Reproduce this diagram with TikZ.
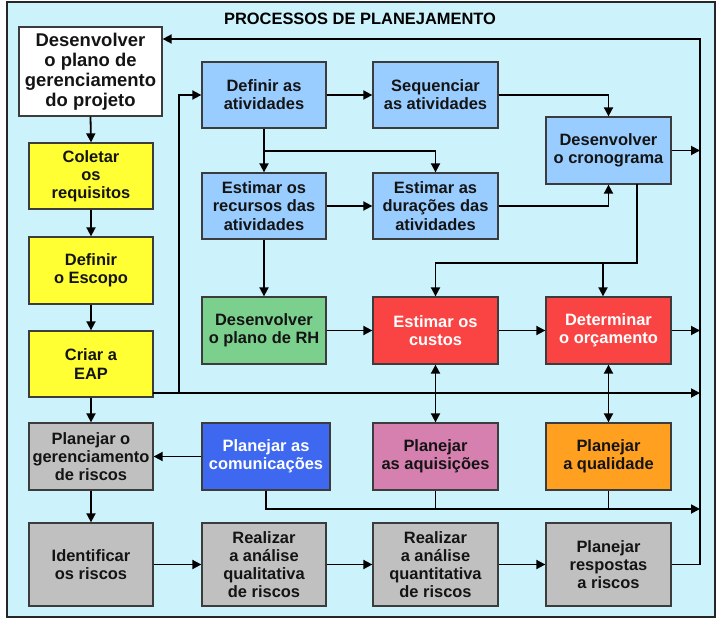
\documentclass[tikz,border=0pt]{standalone}
\usepackage{fontspec}
\setmainfont{Liberation Sans}
\usetikzlibrary{arrows.meta,calc}
\definecolor{bgc}{RGB}{204,242,252}
\definecolor{lblue}{RGB}{153,204,255}
\definecolor{yel}{RGB}{255,255,51}
\definecolor{grn}{RGB}{124,208,142}
\definecolor{rd}{RGB}{250,68,68}
\definecolor{blu}{RGB}{62,104,240}
\definecolor{pnk}{RGB}{214,128,176}
\definecolor{org}{RGB}{255,160,32}
\definecolor{gry}{RGB}{192,192,192}
\definecolor{edge}{RGB}{60,60,60}
\tikzset{
  pbox/.style={draw=edge, line width=1.3bp, align=center, inner sep=1bp,
    font=\fontsize{16.5}{18.3}\selectfont\bfseries, text=black!92},
  c2/.style={pbox, minimum width=124bp, minimum height=66bp},
  c3/.style={pbox, minimum width=125bp, minimum height=66bp},
  tall/.style={minimum height=83bp},
  conn/.style={line width=1.8bp, black},
  arr/.style={conn, -{Triangle[length=9bp,width=9bp]}},
  darr/.style={conn, {Triangle[length=9bp,width=9bp]}-{Triangle[length=9bp,width=9bp]}},
}
\begin{document}
\begin{tikzpicture}[x=1bp,y=-1bp]
\useasboundingbox (0,0) rectangle (720,620);
\draw[fill=bgc, draw=black!85, line width=2.6bp] (7,2) rectangle (715,617);
\node[font=\fontsize{16.5}{18}\selectfont\bfseries] (title) at (360,19) {PROCESSOS DE PLANEJAMENTO};

% column 1
\node[pbox, fill=white, minimum width=143bp, minimum height=89bp,
  font=\fontsize{18.5}{20}\selectfont\bfseries] (plano) at (90.5,71.5)
  {Desenvolver\\o plano de\\gerenciamento\\do projeto};
\node[c2, fill=yel] (coletar) at (91,176) {Coletar\\os\\requisitos};
\node[c2, fill=yel, minimum height=67bp] (escopo) at (91,270.5) {Definir\\o Escopo};
\node[c2, fill=yel] (eap) at (91,364) {Criar a\\EAP};
\node[c2, fill=gry, minimum height=67bp] (gerr) at (91,456.5) {Planejar o\\gerenciamento\\de riscos};
\node[c2, fill=gry, tall] (ident) at (91,564.5) {Identificar\\os riscos};

% column 2
\node[c2, fill=lblue] (definir) at (264,95) {Definir as\\atividades};
\node[c2, fill=lblue] (recursos) at (264,206) {Estimar os\\recursos das\\atividades};
\node[c2, fill=grn, minimum height=67bp] (rh) at (264,330.5) {Desenvolver\\o plano de RH};
\node[c2, fill=blu, text=white, minimum width=128bp, minimum height=67bp] (comun) at (266,456.5) {Planejar as\\comunicações};
\node[c2, fill=gry, tall] (quali) at (264,564.5) {Realizar\\a análise\\qualitativa\\de riscos};

% column 3
\node[c3, fill=lblue] (seq) at (435.5,95) {Sequenciar\\as atividades};
\node[c3, fill=lblue] (dur) at (435.5,206) {Estimar as\\durações das\\atividades};
\node[c3, fill=rd, text=white, minimum height=67bp] (custos) at (435.5,330.5) {Estimar os\\custos};
\node[c3, fill=pnk, minimum height=67bp] (aquis) at (435.5,456.5) {Planejar\\as aquisições};
\node[c3, fill=gry, tall] (quant) at (435.5,564.5) {Realizar\\a análise\\quantitativa\\de riscos};

% column 4
\node[c3, fill=lblue, minimum height=67bp] (crono) at (608.5,150.5) {Desenvolver\\o cronograma};
\node[c3, fill=rd, text=white, minimum height=67bp] (orc) at (608.5,330.5) {Determinar\\o orçamento};
\node[c3, fill=org, minimum height=67bp] (qual) at (608.5,456.5) {Planejar\\a qualidade};
\node[c3, fill=gry, tall] (resp) at (608.5,564.5) {Planejar\\respostas\\a riscos};

% bus coordinates
\coordinate (busTop) at (700,39);
\coordinate (eapOut) at (153,393);
\coordinate (eapBus) at (700,393);
\coordinate (eapUp) at (179,393);
\coordinate (defBr) at (264,151);
\coordinate (cronoOut) at (637,184);
\coordinate (cronoL) at (637,263);
\coordinate (orcBr) at (603,263);
\coordinate (commLow) at (266,509);
\coordinate (busLow) at (700,509);

% main feedback bus
\draw[arr] (resp.east) -- (resp.east -| busTop) -- (busTop) -- (busTop -| plano.east);

% column 1 chain
\draw[arr] (plano.south) -- (coletar.north);
\draw[arr] (coletar) -- (escopo);
\draw[arr] (escopo) -- (eap);
\draw[arr] (eap) -- (gerr);
\draw[arr] (gerr) -- (ident);

% EAP outputs
\draw[arr] (eapOut) -- (eapBus);
\draw[arr] (eapUp) -- (eapUp |- definir.west) -- (definir.west);

% activities
\draw[arr] (definir) -- (seq);
\draw[arr] (definir) -- (recursos);
\draw[arr] (defBr) -| (dur.north);
\draw[arr] (recursos) -- (dur);
\draw[arr] (dur.east) -| (crono.south);
\draw[arr] (seq.east) -| (crono.north);
\draw[arr] (crono.east) -- (crono.east -| busTop);
\draw[arr] (cronoOut) -- (cronoL) -| (custos.north);
\draw[arr] (orcBr) -- (orcBr |- orc.north);
\draw[arr] (recursos) -- (rh);
\draw[arr] (rh) -- (custos);
\draw[arr] (custos) -- (orc);
\draw[arr] (orc.east) -- (orc.east -| busTop);
\draw[darr] (custos.south) -- (aquis.north);
\draw[darr] (orc.south) -- (qual.north);

% communications etc.
\draw[arr] (comun.west) -- (gerr.east |- comun.west);
\draw[arr] (comun.south) -- (commLow) -- (busLow);
\draw[conn] (aquis.south) -- (aquis.south |- commLow);
\draw[conn] (qual.south) -- (qual.south |- commLow);

% risk chain
\draw[arr] (ident) -- (quali);
\draw[arr] (quali) -- (quant);
\draw[arr] (quant) -- (resp);
\end{tikzpicture}
\end{document}
